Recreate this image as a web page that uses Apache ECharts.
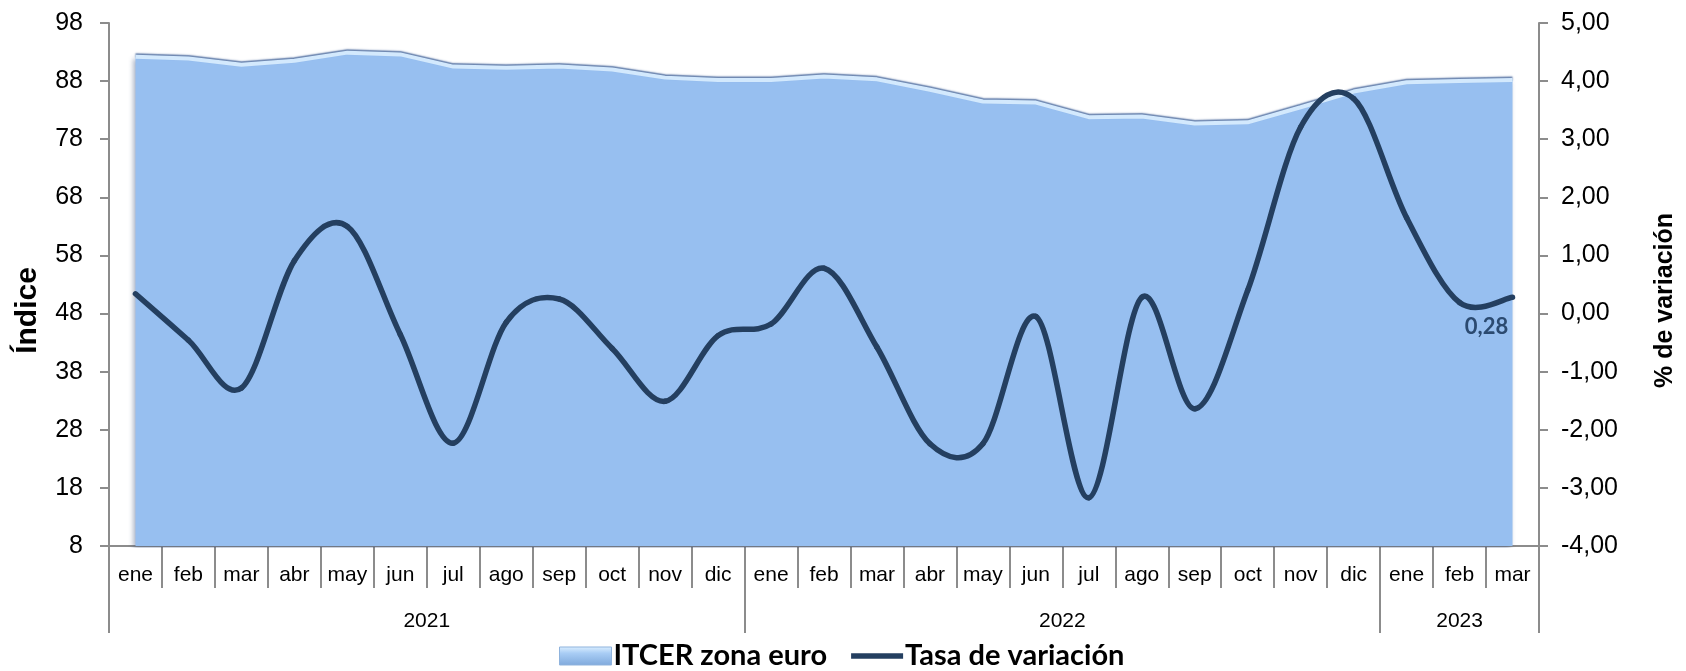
<!DOCTYPE html>
<html>
<head>
<meta charset="utf-8">
<script src="https://cdn.jsdelivr.net/npm/echarts@6/dist/echarts.min.js"></script>
<style>
  html, body { margin: 0; padding: 0; background: #ffffff; }
  #chart { width: 1686px; height: 671px; }
</style>
</head>
<body>
<div id="chart"></div>
<script>
// Month labels (ene 2021 .. mar 2023)
const months = ['ene','feb','mar','abr','may','jun','jul','ago','sep','oct','nov','dic',
                'ene','feb','mar','abr','may','jun','jul','ago','sep','oct','nov','dic',
                'ene','feb','mar'];
// Years and how many months each spans on the axis
const years = ['2021', '2022', '2023'];
const monthsInYear = [12, 12, 3];

// ITCER zona euro (índice, eje izquierdo)
const itcer = [92.2, 91.9, 90.8, 91.5, 92.9, 92.6, 90.5, 90.3, 90.5, 90.0, 88.6, 88.2,
               88.2, 88.8, 88.3, 86.5, 84.5, 84.3, 81.8, 81.9, 80.7, 80.9, 83.5, 86.2,
               87.8, 88.0, 88.2];
// Tasa de variación (%, eje derecho)
const tasa = [0.34, -0.46, -1.28, 0.91, 1.50, -0.36, -2.23, -0.15, 0.25, -0.60, -1.51, -0.38,
              -0.18, 0.78, -0.58, -2.24, -2.24, -0.05, -3.17, 0.28, -1.64, 0.40, 3.21, 3.70,
              1.65, 0.19, 0.28];

// Left y-axis ticks: 8, 18, ... 98
const leftMin = 8, leftMax = 98, leftStep = 10;
// Right y-axis ticks: -4,00 .. 5,00
const rightMin = -4, rightMax = 5, rightStep = 1;

const numFont = "'Liberation Sans Narrow', 'Liberation Sans', Arial, sans-serif";
const titleFont = "'Liberation Sans', Arial, sans-serif";
const boldFont = "Lato, 'Open Sans', sans-serif";
const lineColor = '#243f60';
const axisGray = '#8c8c8c';

// Year axis: two slots per month so a year label can sit at its span's centre
const yearSlots = new Array(months.length * 2 + 1).fill('');
const yearBounds = [];
let startMonth = 0;
years.forEach((y, i) => {
  yearBounds.push(startMonth * 2);
  yearSlots[startMonth * 2 + monthsInYear[i]] = y;
  startMonth += monthsInYear[i];
});
yearBounds.push(startMonth * 2);

const fmtComma = v => v.toFixed(2).replace('.', ',');

// Smoothed rate line: each item draws the cubic segment to the next point,
// with Catmull-Rom style control points (1/6 of the neighbour chord).
function renderRate(params, api) {
  const i = params.dataIndex;
  const n = tasa.length;
  const pt = k => {
    const c = Math.max(0, Math.min(n - 1, k));
    return api.coord([c, tasa[c]]);
  };
  if (i === n - 1) {
    const p = pt(i);
    return {
      type: 'text',
      z2: 10,
      style: {
        text: fmtComma(tasa[i]),
        x: p[0] - 26,
        y: p[1] + 30,
        align: 'center',
        verticalAlign: 'middle',
        fontFamily: boldFont,
        fontWeight: 'bold',
        fontSize: 22,
        fill: '#2b4a70'
      }
    };
  }
  const p0 = pt(i - 1), p1 = pt(i), p2 = pt(i + 1), p3 = pt(i + 2);
  return {
    type: 'bezierCurve',
    shape: {
      x1: p1[0], y1: p1[1],
      x2: p2[0], y2: p2[1],
      cpx1: p1[0] + (p2[0] - p0[0]) / 6, cpy1: p1[1] + (p2[1] - p0[1]) / 6,
      cpx2: p2[0] - (p3[0] - p1[0]) / 6, cpy2: p2[1] - (p3[1] - p1[1]) / 6
    },
    style: { stroke: lineColor, lineWidth: 5.5, fill: null, lineCap: 'round' }
  };
}

const chart = echarts.init(document.getElementById('chart'), null, { renderer: 'canvas' });

chart.setOption({
  animation: false,
  backgroundColor: '#ffffff',
  grid: { left: 109, right: 139, top: 23, bottom: 125 },
  legend: {
    left: 554,
    top: 636,
    itemWidth: 52,
    itemHeight: 18,
    itemGap: 24,
    textStyle: { fontFamily: boldFont, fontWeight: 'bold', fontSize: 29, lineHeight: 30, color: '#000000', padding: [0, 0, 0, -3] },
    data: [
      {
        name: 'ITCER zona euro',
        icon: 'rect',
        itemStyle: {
          color: new echarts.graphic.LinearGradient(0, 0, 0, 1, [
            { offset: 0, color: '#dcefff' },
            { offset: 0.35, color: '#a9cdf5' },
            { offset: 1, color: '#7fa9dc' }
          ]),
          borderColor: '#8fb3dd',
          borderWidth: 1
        }
      },
      {
        name: 'Tasa de variación',
        icon: 'path://M0,0 L54,0 L54,5.5 L0,5.5 Z',
        itemStyle: { color: lineColor }
      }
    ]
  },
  xAxis: [
    {
      type: 'category',
      data: months,
      boundaryGap: true,
      axisLine: { show: true, onZero: false, lineStyle: { color: axisGray, width: 2 } },
      axisTick: { show: true, length: 42, lineStyle: { color: axisGray, width: 2 } },
      axisLabel: { interval: 0, margin: 19, fontFamily: numFont, fontSize: 21, color: '#000000' },
      splitLine: { show: false }
    },
    {
      type: 'category',
      data: yearSlots,
      boundaryGap: false,
      position: 'bottom',
      axisLine: { show: false, onZero: false },
      axisTick: {
        show: true,
        length: 87,
        interval: idx => yearBounds.indexOf(idx) !== -1,
        lineStyle: { color: axisGray, width: 2 }
      },
      axisLabel: {
        interval: idx => yearSlots[idx] !== '',
        margin: 65,
        fontFamily: numFont,
        fontSize: 21,
        color: '#000000'
      },
      splitLine: { show: false }
    }
  ],
  yAxis: [
    {
      type: 'value',
      min: leftMin,
      max: leftMax,
      interval: leftStep,
      position: 'left',
      name: 'Índice',
      nameLocation: 'middle',
      nameRotate: 90,
      nameGap: 66,
      nameTextStyle: { fontFamily: titleFont, fontWeight: 'bold', fontSize: 30, color: '#000000', padding: [0, 52, 0, 0] },
      axisLine: { show: true, onZero: false, lineStyle: { color: axisGray, width: 2 } },
      axisTick: { show: true, length: 9, lineStyle: { color: axisGray, width: 2 } },
      axisLabel: { margin: 26, fontFamily: numFont, fontSize: 25, color: '#000000' },
      splitLine: { show: false }
    },
    {
      type: 'value',
      min: rightMin,
      max: rightMax,
      interval: rightStep,
      position: 'right',
      name: '% de variación',
      nameLocation: 'middle',
      nameRotate: 90,
      nameGap: 114,
      nameTextStyle: { fontFamily: titleFont, fontWeight: 'bold', fontSize: 25, color: '#000000', padding: [0, 32, 0, 0] },
      axisLine: { show: true, onZero: false, lineStyle: { color: axisGray, width: 2 } },
      axisTick: { show: true, length: 9, lineStyle: { color: axisGray, width: 2 } },
      axisLabel: { margin: 22, fontFamily: numFont, fontSize: 25, color: '#000000', formatter: fmtComma },
      splitLine: { show: false }
    }
  ],
  series: [
    {
      name: 'ITCER zona euro',
      type: 'line',
      xAxisIndex: 0,
      yAxisIndex: 0,
      data: itcer,
      smooth: false,
      symbol: 'none',
      z: 1,
      lineStyle: {
        color: '#d3e9fd',
        width: 4,
        shadowColor: 'rgba(80,110,160,0.9)',
        shadowBlur: 1.5,
        shadowOffsetY: -1.5
      },
      areaStyle: {
        origin: 'start',
        color: '#97bff0',
        opacity: 1,
        shadowColor: 'rgba(60,80,120,0.45)',
        shadowBlur: 5,
        shadowOffsetX: -2,
        shadowOffsetY: 2
      },
      itemStyle: { color: '#97bff0' }
    },
    {
      name: 'Tasa de variación',
      type: 'custom',
      coordinateSystem: 'cartesian2d',
      xAxisIndex: 0,
      yAxisIndex: 1,
      z: 3,
      itemStyle: { color: lineColor },
      encode: { x: 0, y: 1 },
      data: tasa.map((v, i) => [i, v]),
      renderItem: renderRate
    }
  ]
});
</script>
</body>
</html>
